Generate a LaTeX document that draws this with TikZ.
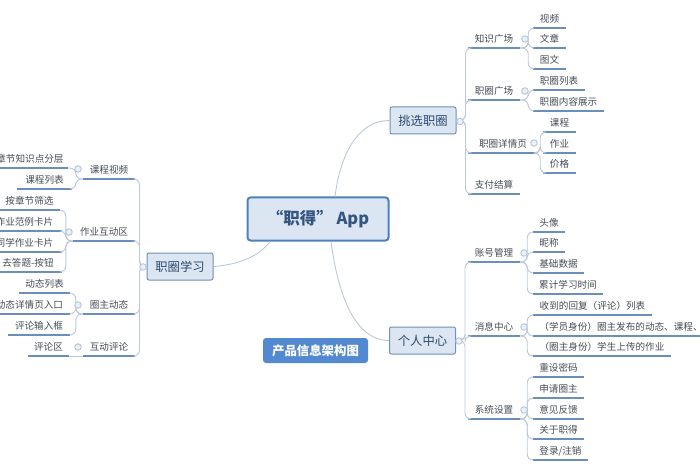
\documentclass[tikz,border=0pt]{standalone}
\usepackage{fontspec}
\setmainfont{Noto Sans CJK SC}
\usetikzlibrary{calc}
\definecolor{ulblue}{HTML}{6A8FBA}
\definecolor{connc}{HTML}{BCC8D8}
\definecolor{txtc}{HTML}{454C55}
\definecolor{boxfill}{HTML}{DCE6F2}
\definecolor{boxline}{HTML}{6F90B6}
\definecolor{mainline}{HTML}{4F80BD}
\definecolor{maintxt}{HTML}{34557F}
\definecolor{titlefill}{HTML}{5289D0}
\definecolor{dotline}{HTML}{B4C6D8}
\definecolor{dotfill}{HTML}{EAF0F6}
\tikzset{
  leafnode/.style={inner sep=0pt, minimum height=17.5pt, text=txtc, font=\fontsize{9.6pt}{10pt}\selectfont},
  uline/.style={draw=ulblue, line width=1.3pt},
  connline/.style={draw=connc, line width=0.9pt, rounded corners=6pt},
  centerline/.style={draw=connc, line width=0.9pt},
  topicbox/.style={draw=boxline, fill=boxfill, line width=1pt, rounded corners=2pt, minimum width=66pt, minimum height=27pt, inner sep=0pt, text=maintxt!85!black, font=\fontsize{12.3pt}{13pt}\selectfont},
  mainbox/.style={draw=mainline, fill=boxfill, line width=2pt, rounded corners=3pt, minimum width=141pt, minimum height=43pt, inner sep=0pt, text=maintxt, font=\fontsize{16.5pt}{17pt}\selectfont\bfseries},
  titlebox/.style={fill=titlefill, rounded corners=3pt, minimum width=105pt, minimum height=25pt, inner sep=0pt, text=white, font=\fontsize{12.4pt}{13pt}\selectfont\bfseries},
  dotnode/.style={circle, draw=dotline, fill=dotfill, line width=0.9pt, minimum size=6.5pt, inner sep=0pt}
}
\newcommand{\mmleaf}[5]{%
  \node[leafnode, minimum width={(#3-#2)*1pt}, anchor=south] (#1) at ({(#2+#3)/2},#4) {#5};
  \draw[uline] (#1.south west) -- (#1.south east);
}
\newcommand{\rconn}[3]{\draw[connline] (#1) -- ++(#3,0) |- (#2);}
\begin{document}
\begin{tikzpicture}[x=1pt,y=-1pt]
\useasboundingbox (0,0) rectangle (700,470);
\clip (0,0) rectangle (700,470);

% boxes
\node[mainbox] (app) at (318,219) {“职得” App};
\node[topicbox] (pick) at (423,120.5) {挑选职圈};
\node[topicbox] (me) at (422.5,340.5) {个人中心};
\node[topicbox] (study) at (180,266.5) {职圈学习};
\node[titlebox] (title) at (315.5,350.5) {产品信息架构图};

% centre connectors
\draw[centerline] ($(app.north)+(17,0)$) .. controls (341,150) and (360,120.5) .. (pick.west);
\draw[centerline] ($(app.south)+(13,0)$) .. controls (338,295) and (355,340.5) .. (me.west);
\draw[centerline] ($(app.south)+(-48,0)$) .. controls (258,258) and (235,265) .. (study.east);

% upper right
\mmleaf{zs}{468}{520}{48}{知识广场}
\mmleaf{zq}{468}{520}{100}{职圈广场}
\mmleaf{xq}{468}{538}{153}{职圈详情页}
\mmleaf{zf}{468}{520}{194}{支付结算}
\mmleaf{sp}{533}{566}{28}{视频}
\mmleaf{wz}{533}{566}{48}{文章}
\mmleaf{tw}{533}{566}{69}{图文}
\mmleaf{lb}{533}{585}{90}{职圈列表}
\mmleaf{nr}{533}{604}{111}{职圈内容展示}
\mmleaf{kc}{543}{576}{132}{课程}
\mmleaf{zy}{543}{576}{153}{作业}
\mmleaf{jg}{543}{576}{173}{价格}
\foreach \t in {zs,zq,xq,zf}{\rconn{pick.east}{\t.south west}{9}}
\foreach \t in {sp,wz,tw}{\rconn{zs.south east}{\t.south west}{8}}
\foreach \t in {lb,nr}{\rconn{zq.south east}{\t.south west}{8}}
\foreach \t in {kc,zy,jg}{\rconn{xq.south east}{\t.south west}{2}}

% lower right
\mmleaf{zh}{468}{520}{262}{账号管理}
\mmleaf{xx}{468}{520}{336}{消息中心}
\mmleaf{xt}{468}{520}{419}{系统设置}
\mmleaf{tx}{533}{565}{232}{头像}
\mmleaf{nc}{533}{565}{252}{昵称}
\mmleaf{jc}{533}{584}{273}{基础数据}
\mmleaf{lj}{533}{603}{294}{累计学习时间}
\mmleaf{hf}{533}{652}{315}{收到的回复（评论）列表}
\mmleaf{xy}{533}{709}{336}{（学员身份）圈主发布的动态、课程、}
\mmleaf{qz}{533}{671}{356}{（圈主身份）学生上传的作业}
\mmleaf{cz}{533}{584}{377}{重设密码}
\mmleaf{sq}{533}{584}{398}{申请圈主}
\mmleaf{yj}{533}{584}{419}{意见反馈}
\mmleaf{gy}{533}{584}{439}{关于职得}
\mmleaf{dl}{533}{588}{460}{登录/注销}
\foreach \t in {zh,xx,xt}{\rconn{me.east}{\t.south west}{9}}
\foreach \t in {tx,nc,jc,lj}{\rconn{zh.south east}{\t.south west}{7}}
\foreach \t in {hf,xy,qz}{\rconn{xx.south east}{\t.south west}{7}}
\foreach \t in {cz,sq,yj,gy,dl}{\rconn{xt.south east}{\t.south west}{7}}

% left
\mmleaf{lv}{83}{135}{179}{课程视频}
\mmleaf{hd}{73}{135}{241}{作业互动区}
\mmleaf{qd}{83}{135}{314}{圈主动态}
\mmleaf{pl}{83}{135}{356}{互动评论}
\mmleaf{ch}{-8}{68}{168}{章节知识点分层}
\mmleaf{kl}{17}{72}{189}{课程列表}
\mmleaf{aj}{-1}{60}{210}{按章节筛选}
\mmleaf{fl}{-13}{62}{231}{作业范例卡片}
\mmleaf{tx2}{-13}{62}{252}{同学作业卡片}
\mmleaf{qt}{-6}{62}{272}{去答题-按钮}
\mmleaf{dt}{19}{70}{293}{动态列表}
\mmleaf{rk}{-11}{70}{314}{动态详情页入口}
\mmleaf{sr}{8}{70}{335}{评论输入框}
\mmleaf{pq}{28}{69}{356}{评论区}
\foreach \t in {lv,hd,qd,pl}{\rconn{study.west}{\t.south east}{-7}}
\foreach \t in {ch,kl}{\rconn{lv.south west}{\t.south east}{-7}}
\foreach \t in {aj,fl,tx2,qt}{\rconn{hd.south west}{\t.south east}{-7}}
\foreach \t in {dt,rk,sr}{\rconn{qd.south west}{\t.south east}{-7}}
\draw[connline] (pl.south west) -- (pq.south east);

% collapse dots
\node[dotnode] (d1) at (460,121.5) {};
\node[dotnode] (d2) at (459,341) {};
\node[dotnode] (d3) at (143,267) {};
\node[dotnode] (d4) at (525,39) {};
\node[dotnode] (d5) at (525,91) {};
\node[dotnode] (d6) at (534,143) {};
\node[dotnode] (d7) at (524,253) {};
\node[dotnode] (d8) at (524,327) {};
\node[dotnode] (d9) at (524,410) {};
\node[dotnode] (d10) at (78,169) {};
\node[dotnode] (d11) at (69,232) {};
\node[dotnode] (d12) at (78,305) {};
\node[dotnode] (d13) at (78,347) {};
\end{tikzpicture}
\end{document}
